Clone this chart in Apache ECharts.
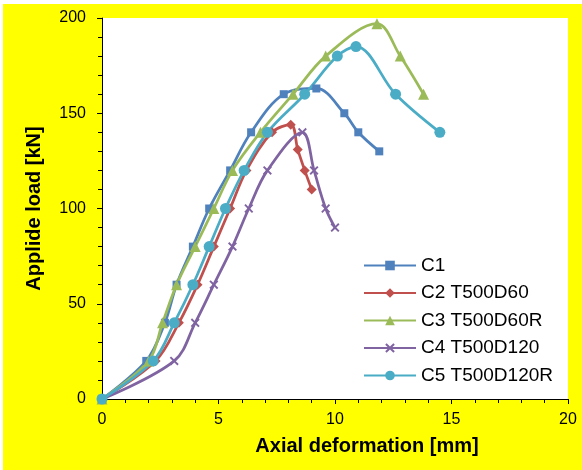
<!DOCTYPE html>
<html>
<head>
<meta charset="utf-8">
<script src="https://cdn.jsdelivr.net/npm/echarts@6/dist/echarts.min.js"></script>
<style>
html,body{margin:0;padding:0;background:#fff;}
#wrap{position:absolute;left:3px;top:4px;width:579px;height:466px;background:#ffff00;}
#chart{position:absolute;left:-3px;top:-4px;width:582px;height:470px;}
</style>
</head>
<body>
<div id="wrap"><div id="chart"></div></div>
<script>
var seriesNames = ['C1', 'C2 T500D60', 'C3 T500D60R', 'C4 T500D120', 'C5 T500D120R'];
var c1X = [0, 1.9, 2.7, 3.2, 3.9, 4.6, 5.5, 6.4, 7.8, 9.2, 10.4, 11.0, 11.9];
var c1Y = [0, 20, 40, 60, 80, 100, 120, 140, 160, 163, 150, 140, 130];
var c2X = [0, 2.3, 3.3, 4.1, 4.8, 5.5, 6.2, 7.3, 8.1, 8.4, 8.7, 9.0];
var c2Y = [0, 20, 40, 60, 80, 100, 120, 140, 144, 131, 120, 110];
var c3X = [0, 2.0, 2.6, 3.2, 4.0, 4.8, 5.6, 6.8, 8.2, 9.6, 11.8, 12.8, 13.8];
var c3Y = [0, 20, 40, 60, 80, 100, 120, 140, 160, 180, 197, 180, 160];
var c4X = [0, 3.1, 4.0, 4.8, 5.6, 6.3, 7.1, 8.6, 9.1, 9.6, 10.0];
var c4Y = [0, 20, 40, 60, 80, 100, 120, 140, 120, 100, 90];
var c5X = [0, 2.2, 3.1, 3.9, 4.6, 5.3, 6.1, 7.1, 8.7, 10.1, 10.9, 12.6, 14.5];
var c5Y = [0, 20, 40, 60, 80, 100, 120, 140, 160, 180, 185, 160, 140];
var xTitle = 'Axial deformation [mm]';
var yTitle = 'Applide load [kN]';

var colors = ['#4F81BD', '#C0504D', '#9BBB59', '#8064A2', '#4BACC6'];
var symbols = ['rect', 'diamond', 'triangle',
  'path://M1.5,0L5,3.5L8.5,0L10,1.5L6.5,5L10,8.5L8.5,10L5,6.5L1.5,10L0,8.5L3.5,5L0,1.5Z', 'circle'];
var sizes = [8, 10, 11, 9, 11];
var xs = [c1X, c2X, c3X, c4X, c5X];
var ys = [c1Y, c2Y, c3Y, c4Y, c5Y];

function pairs(a, b) { return a.map(function (v, i) { return [v, b[i]]; }); }

var series = seriesNames.map(function (n, i) {
  return {
    name: n, type: 'line', smooth: 0.35,
    data: pairs(xs[i], ys[i]),
    symbol: symbols[i], symbolSize: sizes[i], showSymbol: true,
    lineStyle: { color: colors[i], width: 2.75 },
    itemStyle: { color: colors[i] },
    emphasis: { disabled: true }
  };
});

var chart = echarts.init(document.getElementById('chart'), null, { renderer: 'canvas' });
chart.setOption({
  animation: false,
  backgroundColor: 'transparent',
  grid: { left: 102, right: 14, top: 18, bottom: 71, show: true, backgroundColor: '#fff', borderWidth: 0 },
  legend: {
    orient: 'vertical', left: 358, top: 251,
    itemWidth: 52, itemHeight: 12, itemGap: 8.5,
    textStyle: { fontSize: 19, color: '#000', fontFamily: 'Liberation Sans', lineHeight: 19 },
    data: seriesNames
  },
  xAxis: {
    type: 'value', min: 0, max: 20, interval: 5,
    name: xTitle, nameLocation: 'middle', nameGap: 37,
    nameTextStyle: { fontSize: 20, fontWeight: 'bold', color: '#000', fontFamily: 'Liberation Sans', padding: [0, 0, 0, 64] },
    axisLine: { show: true, lineStyle: { color: '#000', width: 1 } },
    axisTick: { show: true, length: 5, lineStyle: { color: '#000' } },
    minorTick: { show: true, splitNumber: 5, length: 4, lineStyle: { color: '#000' } },
    splitLine: { show: false },
    axisLabel: { fontSize: 16, color: '#000', fontFamily: 'Liberation Sans', margin: 13 }
  },
  yAxis: {
    type: 'value', min: 0, max: 200, interval: 50,
    name: yTitle, nameLocation: 'middle', nameGap: 58,
    nameTextStyle: { fontSize: 20, fontWeight: 'bold', color: '#000', fontFamily: 'Liberation Sans' },
    axisLine: { show: true, lineStyle: { color: '#000', width: 1 } },
    axisTick: { show: true, length: 5, lineStyle: { color: '#000' } },
    minorTick: { show: true, splitNumber: 5, length: 4, lineStyle: { color: '#000' } },
    splitLine: { show: false },
    axisLabel: { fontSize: 16, color: '#000', fontFamily: 'Liberation Sans', margin: 16 }
  },
  series: series
});
</script>
</body>
</html>
